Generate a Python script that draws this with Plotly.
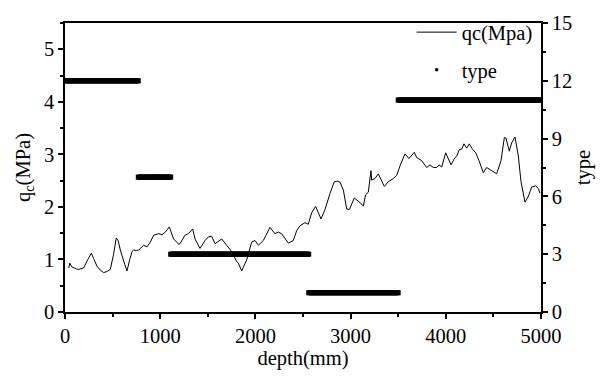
import plotly.graph_objects as go

# qc curve (depth mm, qc MPa)
depth = [39, 50, 70, 91, 120, 144, 170, 196, 240, 277, 300, 336, 370, 406, 440, 476, 510, 539, 560, 581, 620, 651,
         680, 704, 721, 750, 774, 800, 826, 861, 896, 931, 960, 984, 1019, 1054, 1096, 1141, 1194, 1208, 1260,
         1295, 1341, 1366, 1418, 1471, 1506, 1541, 1576, 1646, 1698, 1751, 1803, 1821, 1856, 1908, 1961,
         1996, 2031, 2083, 2153, 2206, 2241, 2276, 2346, 2398, 2434, 2468, 2521, 2556, 2591, 2633, 2689,
         2731, 2784, 2829, 2860, 2889, 2924, 2959, 2987, 3039, 3081, 3134, 3158, 3186, 3214, 3221, 3256,
         3291, 3354, 3396, 3449, 3484, 3519, 3571, 3613, 3669, 3694, 3747, 3799, 3834, 3869, 3904, 3929,
         3957, 3999, 4026, 4055, 4097, 4114, 4142, 4167, 4191, 4219, 4247, 4279, 4314, 4349, 4394, 4429,
         4482, 4534, 4580, 4615, 4632, 4667, 4692, 4727, 4762, 4790, 4832, 4867, 4902, 4944, 4972, 4990]
qc = [0.84, 0.93, 0.86, 0.84, 0.82, 0.81, 0.83, 0.84, 1.0, 1.12, 1.02, 0.87, 0.80, 0.75, 0.77, 0.81, 1.1, 1.41, 1.35, 1.18, 0.95, 0.78,
      1.0, 1.15, 1.18, 1.17, 1.18, 1.22, 1.27, 1.24, 1.33, 1.46, 1.47, 1.49, 1.47, 1.52, 1.62, 1.39, 1.29, 1.30, 1.46,
      1.49, 1.58, 1.39, 1.21, 1.36, 1.43, 1.44, 1.30, 1.39, 1.27, 1.15, 0.96, 0.93, 0.78, 0.99, 1.33,
      1.36, 1.27, 1.36, 1.61, 1.49, 1.52, 1.49, 1.31, 1.36, 1.55, 1.64, 1.70, 1.67, 1.89, 2.01, 1.77,
      1.95, 2.26, 2.48, 2.49, 2.47, 2.32, 1.96, 1.95, 2.17, 2.11, 2.02, 2.23, 2.28, 2.69, 2.51, 2.54,
      2.63, 2.39, 2.48, 2.54, 2.60, 2.78, 3.01, 2.92, 3.04, 2.94, 2.88, 2.75, 2.80, 2.75, 2.75, 2.80,
      2.76, 3.03, 2.91, 2.80, 2.94, 2.96, 3.09, 3.10, 3.20, 3.12, 3.20, 3.10, 3.03, 2.88, 2.65, 2.75,
      2.69, 2.63, 2.88, 3.32, 3.31, 3.06, 3.22, 3.33, 2.97, 2.48, 2.09, 2.20, 2.38, 2.40, 2.35, 2.26]

# soil type segments (start depth, end depth, type)
type_start = [0, 770, 1110, 2560, 3500]
type_end = [770, 1110, 2560, 3500, 5000]
type_value = [12, 7, 3, 1, 11]

x_ticks = [0, 1000, 2000, 3000, 4000, 5000]

tx, ty = [], []
for s, e, v in zip(type_start, type_end, type_value):
    d = s
    while d <= e:
        tx.append(d)
        ty.append(v)
        d += 10

FONT = "Liberation Serif, Times New Roman, Times, serif"
FS = 20.5
fig = go.Figure()
fig.add_trace(go.Scatter(x=depth, y=qc, mode="lines", name="qc(Mpa)",
                         line=dict(color="black", width=1), legendgroup="a"))
fig.add_trace(go.Scatter(x=tx, y=ty, mode="markers", name="type", yaxis="y2",
                         marker=dict(symbol="square", size=5, color="black", line=dict(width=0)),
                         showlegend=False))
fig.add_trace(go.Scatter(x=[None], y=[None], mode="markers", name="type", yaxis="y2",
                         marker=dict(symbol="square", size=3, color="black"), legendgroup="b"))

axis_common = dict(showgrid=False, zeroline=False, showline=True, linecolor="black", linewidth=1.5,
                   ticks="outside", ticklen=5, tickwidth=1.5, tickcolor="black", automargin=False,
                   tickfont=dict(family=FONT, size=FS, color="black"))
fig.update_layout(
    width=600, height=383,
    margin=dict(l=65, r=59, t=15, b=71),
    paper_bgcolor="white", plot_bgcolor="white",
    font=dict(family=FONT, size=FS, color="black"),
    xaxis=dict(range=[0, 5000], tickvals=x_ticks, mirror=True,
               minor=dict(dtick=500, ticks="outside", ticklen=3, tickwidth=1.5, tickcolor="black"),
               title=dict(text="depth(mm)", font=dict(family=FONT, size=FS), standoff=3),
               **axis_common),
    yaxis=dict(range=[0, 5.5], dtick=1,
               minor=dict(dtick=0.5, ticks="outside", ticklen=3, tickwidth=1.5, tickcolor="black"),
               title=dict(text="q<sub>c</sub>(MPa)", font=dict(family=FONT, size=FS), standoff=8),
               **axis_common),
    yaxis2=dict(range=[0, 15], dtick=3, overlaying="y", side="right",
                minor=dict(dtick=1.5, ticks="outside", ticklen=3, tickwidth=1.5, tickcolor="black"),
                title=dict(text="type", font=dict(family=FONT, size=FS), standoff=4),
                **axis_common),
    legend=dict(x=0.993, y=1.037, xanchor="right", yanchor="top", bgcolor="rgba(0,0,0,0)",
                font=dict(family=FONT, size=FS), tracegroupgap=8, traceorder="grouped",
                itemwidth=40),
)
fig.write_html("out.html")
